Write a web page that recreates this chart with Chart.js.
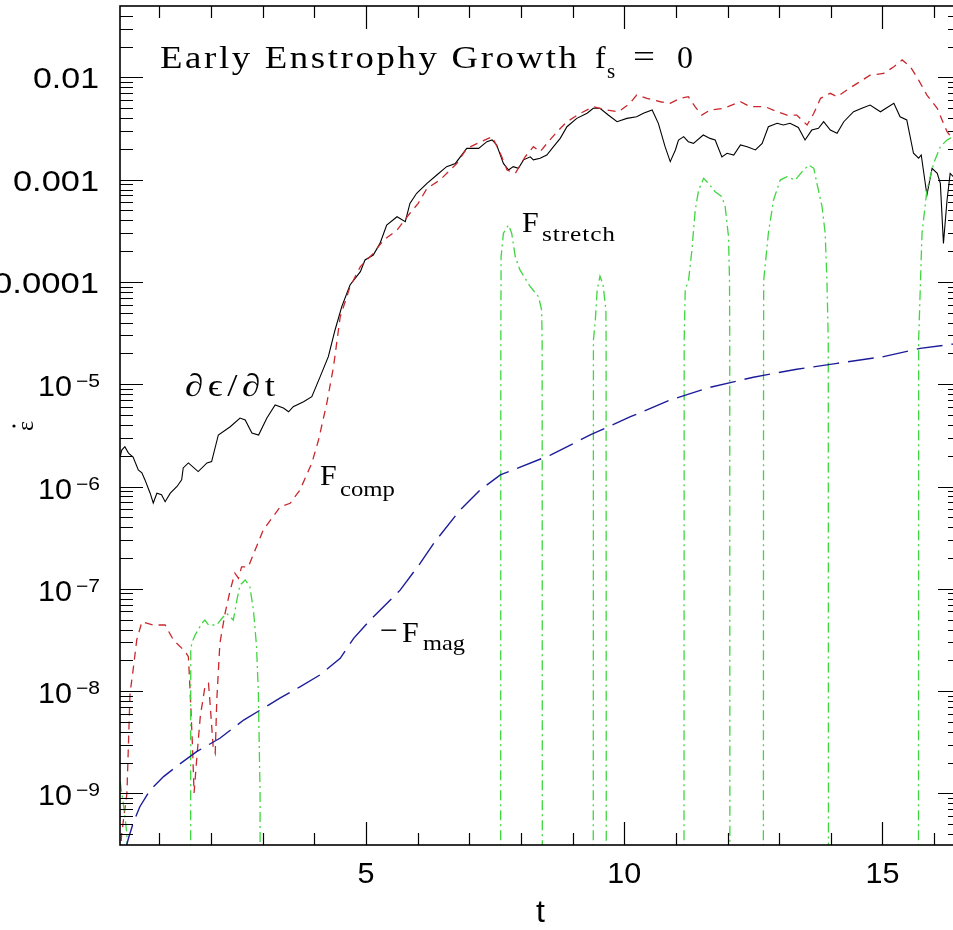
<!DOCTYPE html>
<html>
<head>
<meta charset="utf-8">
<script src="https://cdn.jsdelivr.net/npm/chart.js@4.4.1/dist/chart.umd.min.js"></script>
<style>
  html, body { margin: 0; padding: 0; overflow: hidden; background: #fff; }
  #wrap { width: 980px; height: 930px; }
</style>
</head>
<body>
<div id="wrap"><canvas id="enstrophyChart" width="980" height="930"></canvas></div>
<script>
// Data (t, value)
const tDeriv = [0.24,0.27,0.33,0.40,0.49,0.59,0.66,0.72,0.82,0.88,0.95,1.04,1.11,1.21,1.34,1.43,1.46,1.56,1.75,1.92,2.01,2.14,2.37,2.56,2.66,2.79,2.92,3.08,3.24,3.40,3.50,3.59,3.79,3.95,4.11,4.27,4.40,4.53,4.69,4.89,4.98,5.14,5.27,5.40,5.60,5.76,5.85,5.98,6.18,6.37,6.56,6.73,6.95,7.18,7.34,7.44,7.53,7.66,7.76,7.85,7.95,8.05,8.18,8.24,8.37,8.50,8.63,8.76,8.89,9.08,9.28,9.40,9.53,9.69,9.86,10.05,10.24,10.37,10.54,10.66,10.79,10.89,10.99,11.05,11.15,11.24,11.34,11.53,11.66,11.76,11.89,11.99,12.12,12.25,12.38,12.54,12.67,12.79,12.96,13.08,13.21,13.37,13.50,13.63,13.76,13.86,13.99,14.12,14.25,14.44,14.60,14.76,14.96,15.22,15.34,15.47,15.60,15.70,15.75,15.86,15.96,16.06,16.12,16.18,16.25,16.31,16.37,16.52];
const dDeriv = [1.95e-6,2.27e-6,2.45e-6,2.12e-6,1.94e-6,1.45e-6,1.36e-6,1.16e-6,8.6e-7,6.9e-7,8.6e-7,8.3e-7,7.1e-7,8.6e-7,1.0e-6,1.16e-6,1.52e-6,1.70e-6,1.40e-6,1.70e-6,1.75e-6,3.19e-6,3.84e-6,4.67e-6,4.47e-6,3.33e-6,3.19e-6,4.67e-6,6.26e-6,5.85e-6,5.38e-6,6.03e-6,6.75e-6,7.55e-6,1.18e-5,1.86e-5,3.39e-5,5.73e-5,9.33e-5,1.26e-4,1.64e-4,1.83e-4,2.38e-4,3.60e-4,4.34e-4,3.88e-4,5.86e-4,7.35e-4,9.2e-4,1.11e-3,1.34e-3,1.44e-3,2.02e-3,2.02e-3,2.35e-3,2.44e-3,2.18e-3,1.44e-3,1.24e-3,1.34e-3,1.29e-3,1.56e-3,1.67e-3,1.56e-3,1.62e-3,1.74e-3,2.10e-3,2.53e-3,3.29e-3,3.97e-3,4.45e-3,4.98e-3,4.98e-3,4.28e-3,3.68e-3,3.97e-3,4.12e-3,4.45e-3,4.79e-3,3.55e-3,2.10e-3,1.50e-3,1.95e-3,2.44e-3,2.63e-3,2.35e-3,2.26e-3,2.73e-3,2.53e-3,2.44e-3,1.67e-3,1.81e-3,1.74e-3,2.18e-3,2.10e-3,1.95e-3,2.26e-3,3.29e-3,3.55e-3,3.42e-3,3.55e-3,3.24e-3,2.44e-3,3.05e-3,3.17e-3,3.68e-3,3.05e-3,2.84e-3,3.68e-3,4.61e-3,4.98e-3,5.36e-3,4.61e-3,5.57e-3,4.12e-3,3.83e-3,1.81e-3,1.62e-3,1.74e-3,7.07e-4,1.29e-3,1.15e-3,9.2e-4,2.38e-4,6.32e-4,1.15e-3,1.07e-3,1.0e-3];

const tComp = [0.24,0.27,0.37,0.43,0.49,0.56,0.66,0.88,1.11,1.27,1.50,1.56,1.59,1.64,1.67,1.72,1.79,1.88,1.95,1.98,2.04,2.08,2.11,2.17,2.27,2.37,2.46,2.53,2.59,2.72,3.01,3.34,3.53,3.72,3.95,4.08,4.24,4.37,4.50,4.69,4.89,5.14,5.34,5.60,5.85,6.01,6.18,6.43,6.76,6.95,7.44,7.60,7.73,7.89,8.08,8.24,8.37,8.53,8.70,8.89,9.15,9.40,9.66,9.89,10.11,10.24,10.44,10.70,10.89,11.08,11.24,11.37,11.50,11.66,11.92,12.25,12.44,12.73,12.96,13.15,13.34,13.54,13.67,13.80,13.99,14.12,14.31,14.51,14.76,15.02,15.22,15.38,15.54,15.70,15.86,16.06,16.18,16.25,16.37,16.52];
const fComp = [2.5e-10,4.1e-10,1.0e-9,9.5e-9,1.61e-8,3.16e-8,4.77e-8,4.43e-8,4.43e-8,3.16e-8,2.43e-8,2.17e-8,1.10e-8,2.86e-9,1.01e-9,2.12e-9,5.6e-9,1.10e-8,1.19e-8,7.6e-9,2.86e-9,2.47e-9,8.2e-9,2.93e-8,5.76e-8,9.7e-8,1.42e-7,1.27e-7,1.64e-7,1.64e-7,3.76e-7,6.35e-7,6.85e-7,9.24e-7,1.69e-6,2.85e-6,6.5e-6,1.48e-5,4.57e-5,8.97e-5,1.41e-4,1.90e-4,2.57e-4,3.21e-4,4.69e-4,5.86e-4,8.22e-4,9.9e-4,1.44e-3,2.02e-3,2.63e-3,1.81e-3,1.24e-3,1.15e-3,1.67e-3,2.10e-3,1.87e-3,2.35e-3,2.94e-3,3.68e-3,4.45e-3,5.16e-3,4.79e-3,4.61e-3,5.57e-3,6.71e-3,6.23e-3,5.77e-3,5.57e-3,6.23e-3,6.46e-3,5.16e-3,4.28e-3,4.79e-3,4.98e-3,5.77e-3,5.16e-3,5.16e-3,4.61e-3,4.28e-3,4.28e-3,3.42e-3,4.45e-3,6.23e-3,6.98e-3,6.46e-3,7.51e-3,8.73e-3,1.05e-2,1.09e-2,1.27e-2,1.48e-2,1.27e-2,9.4e-3,6.71e-3,4.98e-3,3.55e-3,2.94e-3,2.44e-3,2.2e-3];

// F_stretch is negative between the bumps: null breaks the line, 1e-12 runs it off the bottom
const tStretch = [0.24,0.30,0.37,0.38,0.39,
  1.600,1.606,1.625,1.69,1.82,1.88,1.95,2.11,2.21,2.30,2.43,2.50,2.56,2.66,2.75,2.82,2.88,2.915,2.948,2.955,2.96,
  7.605,7.61,7.615,7.66,7.76,7.82,7.89,7.98,8.18,8.34,8.40,8.41,8.415,8.42,
  9.398,9.403,9.44,9.475,9.53,9.59,9.644,9.648,9.653,9.66,
  11.155,11.16,11.18,11.245,11.31,11.374,11.44,11.536,11.63,11.76,11.89,11.954,12.018,12.038,12.042,12.046,12.05,
  12.692,12.697,12.70,12.79,12.89,13.02,13.15,13.31,13.44,13.57,13.67,13.73,13.83,13.89,13.924,13.95,13.955,13.96,
  15.695,15.70,15.765,15.86,15.99,16.12,16.25,16.37,16.52];
const fStretch = [1.3e-9,8e-10,4.0e-10,1e-12,null,
  1e-12,2.52e-8,2.93e-8,3.53e-8,4.6e-8,4.95e-8,4.43e-8,4.43e-8,5.15e-8,5.76e-8,4.95e-8,7.78e-8,1.09e-7,1.22e-7,1.05e-7,6.2e-8,2.72e-8,9.5e-9,1e-9,1e-12,null,
  1e-12,2.7e-5,1.76e-4,2.99e-4,3.60e-4,2.99e-4,1.76e-4,1.31e-4,8.97e-5,7.16e-5,5.31e-5,2.7e-5,1e-12,null,
  1e-12,2.7e-5,4.24e-5,8.33e-5,1.14e-4,9.33e-5,5.31e-5,2.7e-5,1e-12,null,
  1e-12,2.7e-5,8.3e-5,1.04e-4,2.05e-4,5.04e-4,7.91e-4,1.03e-3,9.2e-4,7.62e-4,6.81e-4,5.43e-4,2.77e-4,1.04e-4,2.7e-5,1e-12,null,
  1e-12,2.7e-5,1.04e-4,2.99e-4,6.32e-4,9.9e-4,1.07e-3,9.9e-4,1.19e-3,1.39e-3,1.29e-3,9.2e-4,5.43e-4,2.99e-4,1.04e-4,2.7e-5,1e-12,null,
  1e-12,2.7e-5,2.99e-4,7.91e-4,1.44e-3,2.10e-3,2.44e-3,2.63e-3,2.8e-3];

const tMag = [0.34,0.40,0.49,0.62,0.82,1.08,1.37,1.72,2.17,2.63,3.01,3.34,3.72,4.11,4.50,4.76,5.08,5.47,5.66,6.05,6.31,6.82,7.21,7.60,7.85,8.57,9.34,10.12,10.89,11.66,12.50,13.34,14.12,15.02,15.73,16.37,16.52];
const fMag = [2.8e-10,3.64e-10,5.1e-10,7.41e-10,1.08e-9,1.46e-9,1.90e-9,2.56e-9,3.46e-9,5.21e-9,6.79e-9,8.57e-9,1.10e-8,1.44e-8,2.09e-8,3.28e-8,4.95e-8,7.78e-8,9.7e-8,1.78e-7,2.78e-7,5.89e-7,9.24e-7,1.30e-6,1.45e-6,2.03e-6,3.19e-6,4.81e-6,7.01e-6,9.33e-6,1.17e-5,1.40e-5,1.60e-5,1.86e-5,2.24e-5,2.47e-5,2.55e-5];

const xTicks = [1,2,3,4,5,6,7,8,9,10,11,12,13,14,15,16];
const xLabels = [5, 10, 15];
const yDecades = [-9,-8,-7,-6,-5,-4,-3,-2];

const SANS = '"Liberation Sans", Arial, sans-serif';
const SERIF = '"Liberation Serif", "DejaVu Serif", serif';

const pts = (xs, ys) => xs.map((x, i) => ({ x, y: ys[i] }));

// Text helper: fit to a target width by scaling up to maxScale, then letter spacing for the rest
const drawText = (ctx, s, x, y, font, opts = {}) => {
  ctx.save();
  ctx.font = font;
  ctx.textAlign = "left";
  ctx.textBaseline = "alphabetic";
  const w = ctx.measureText(s).width;
  let sx = 1;
  let drawnW = w;
  if (opts.width) {
    sx = Math.min(opts.maxScale || 99, opts.width / w);
    if (sx < opts.width / w && s.length > 1) {
      ctx.letterSpacing = (opts.width / sx - w) / (s.length - 1) + "px";
    }
    drawnW = opts.width;
  }
  let x0 = x;
  if (opts.align === "right") x0 = x - drawnW;
  else if (opts.align === "center") x0 = x - drawnW / 2;
  ctx.translate(x0, y);
  ctx.scale(sx, 1);
  ctx.fillText(s, 0, 0);
  ctx.restore();
};

// Frame with inward ticks on all sides, plus labels
const framePlugin = {
  id: "frame",
  afterDraw(chart) {
    const { ctx, chartArea: a, scales: { x, y } } = chart;
    ctx.save();
    ctx.strokeStyle = "#000";
    ctx.fillStyle = "#000";
    ctx.lineWidth = 1.6;
    ctx.strokeRect(a.left, a.top, a.right - a.left, a.bottom - a.top);

    ctx.beginPath();
    ctx.lineWidth = 1.2;
    xTicks.forEach((t) => {
      const px = Math.round(x.getPixelForValue(t)) + 0.5;
      const len = t % 5 === 0 ? 23 : 12;
      ctx.moveTo(px, a.bottom); ctx.lineTo(px, a.bottom - len);
      ctx.moveTo(px, a.top); ctx.lineTo(px, a.top + len);
    });
    for (let e = -10; e <= -1; e++) {
      for (let m = 1; m <= 9; m++) {
        const v = m * Math.pow(10, e);
        if (v < y.min || v > y.max) continue;
        const py = Math.round(y.getPixelForValue(v)) + 0.5;
        const len = m === 1 ? 23 : 13;
        ctx.moveTo(a.left, py); ctx.lineTo(a.left + len, py);
        ctx.moveTo(a.right, py); ctx.lineTo(a.right - len, py);
      }
    }
    ctx.stroke();

    // y tick labels
    yDecades.forEach((e) => {
      const py = y.getPixelForValue(Math.pow(10, e));
      if (e >= -4) {
        const s = "0." + "0".repeat(-e - 1) + "1";
        drawText(ctx, s, 99, py + 11, "30px " + SANS, { align: "right", width: (s.length - 1) * 20 + 6 });
      } else {
        drawText(ctx, "10", 38, py + 12, "30px " + SANS, { width: 34 });
        drawText(ctx, "\u2212" + (-e), 76, py + 3, "18px " + SANS, { width: 24 });
      }
    });

    // x tick labels and axis titles
    xLabels.forEach((t) => {
      const s = String(t);
      drawText(ctx, s, x.getPixelForValue(t), 883, "29px " + SANS, { align: "center", width: s.length * 17 });
    });
    drawText(ctx, "t", (a.left + a.right) / 2, 922, "32px " + SANS, { align: "center" });

    ctx.save();
    ctx.translate(33, 426);
    ctx.rotate(-Math.PI / 2);
    drawText(ctx, "\u03b5", 0, 0, "24px " + SERIF, { align: "center" });
    ctx.beginPath();
    ctx.arc(0, -19, 1.6, 0, Math.PI * 2);
    ctx.fill();
    ctx.restore();

    // title
    drawText(ctx, "Early Enstrophy Growth", 160, 68, "32px " + SERIF, { width: 417, maxScale: 1.15 });
    drawText(ctx, "f", 595, 68, "32px " + SERIF);
    drawText(ctx, "s", 607, 78, "21px " + SERIF);
    drawText(ctx, "=", 633, 67, "32px " + SERIF, { width: 22 });
    drawText(ctx, "0", 677, 68, "32px " + SERIF);

    // curve labels
    drawText(ctx, "\u2202\u03f5/\u2202t", 185, 396, "32px " + SERIF, { width: 90, maxScale: 1.15 });
    drawText(ctx, "F", 320, 485, "30px " + SERIF);
    drawText(ctx, "comp", 340, 496, "22px " + SERIF, { width: 55, maxScale: 1.15 });
    drawText(ctx, "\u2212", 380, 640, "30px " + SERIF, { width: 18 });
    drawText(ctx, "F", 402, 642, "30px " + SERIF);
    drawText(ctx, "mag", 423, 650, "22px " + SERIF, { width: 42, maxScale: 1.15 });
    drawText(ctx, "F", 522, 232, "30px " + SERIF);
    drawText(ctx, "stretch", 542, 241, "22px " + SERIF, { width: 73, maxScale: 1.15 });
    ctx.restore();
  },
};

const lineStyle = { pointRadius: 0, fill: false, tension: 0, spanGaps: false };

new Chart(document.getElementById("enstrophyChart").getContext("2d"), {
  type: "line",
  data: {
    datasets: [
      { ...lineStyle, label: "-F_mag", data: pts(tMag, fMag), borderColor: "#1c1c9a", borderWidth: 1.4, borderDash: [26, 9] },
      { ...lineStyle, label: "F_stretch", data: pts(tStretch, fStretch), borderColor: "#3fd63f", borderWidth: 1.3, borderDash: [10, 4, 2, 4] },
      { ...lineStyle, label: "F_comp", data: pts(tComp, fComp), borderColor: "#c8282d", borderWidth: 1.3, borderDash: [8, 6] },
      { ...lineStyle, label: "d eps/dt", data: pts(tDeriv, dDeriv), borderColor: "#000", borderWidth: 1.1 },
    ],
  },
  options: {
    responsive: false,
    animation: false,
    layout: { padding: { left: 120, top: 6, right: 19, bottom: 85 } },
    plugins: { legend: { display: false }, tooltip: { enabled: false } },
    scales: {
      x: { type: "linear", min: 0.236, max: 16.52, display: false },
      y: { type: "logarithmic", min: 3.13e-10, max: 0.0498, display: false },
    },
  },
  plugins: [framePlugin],
});
</script>
</body>
</html>
